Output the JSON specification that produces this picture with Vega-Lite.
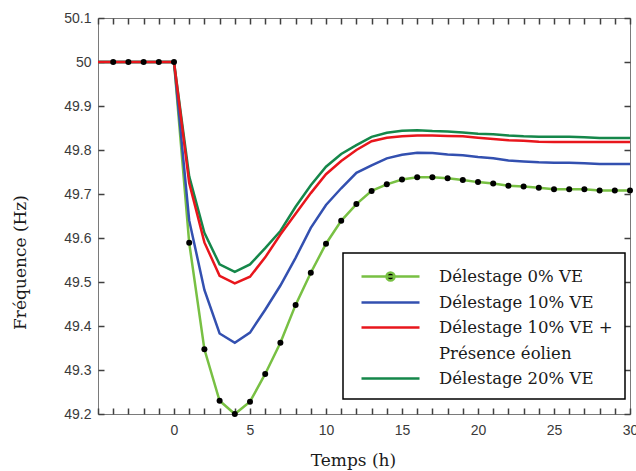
{
  "$schema": "https://vega.github.io/schema/vega-lite/v6.json",
  "width": 532,
  "height": 396,
  "autosize": {"type": "none"},
  "padding": {"left": 98, "top": 18, "right": 6, "bottom": 57},
  "background": "white",
  "config": {
    "view": {"stroke": "#7a7a7a", "strokeWidth": 1},
    "axis": {
      "domain": false,
      "ticks": false,
      "tickSize": 0,
      "grid": true,
      "gridColor": "#404040",
      "gridWidth": 1.5,
      "gridOpacity": 1,
      "labelFont": "Liberation Sans",
      "labelFontSize": 14,
      "labelColor": "#3a3a3a",
      "titleFont": "DejaVu Serif",
      "titleFontSize": 17,
      "titleFontWeight": "normal",
      "titleColor": "#1a1a1a"
    }
  },
  "data": {
    "values": [
      {"s": "Délestage 0% VE", "t": -5, "f": 50},
      {"s": "Délestage 0% VE", "t": -4, "f": 50},
      {"s": "Délestage 0% VE", "t": -3, "f": 50},
      {"s": "Délestage 0% VE", "t": -2, "f": 50},
      {"s": "Délestage 0% VE", "t": -1, "f": 50},
      {"s": "Délestage 0% VE", "t": 0, "f": 50},
      {"s": "Délestage 0% VE", "t": 1, "f": 49.589},
      {"s": "Délestage 0% VE", "t": 2, "f": 49.347},
      {"s": "Délestage 0% VE", "t": 3, "f": 49.23},
      {"s": "Délestage 0% VE", "t": 4, "f": 49.2},
      {"s": "Délestage 0% VE", "t": 5, "f": 49.228},
      {"s": "Délestage 0% VE", "t": 6, "f": 49.291},
      {"s": "Délestage 0% VE", "t": 7, "f": 49.362},
      {"s": "Délestage 0% VE", "t": 8, "f": 49.448},
      {"s": "Délestage 0% VE", "t": 9, "f": 49.521},
      {"s": "Délestage 0% VE", "t": 10, "f": 49.587},
      {"s": "Délestage 0% VE", "t": 11, "f": 49.639},
      {"s": "Délestage 0% VE", "t": 12, "f": 49.677},
      {"s": "Délestage 0% VE", "t": 13, "f": 49.707},
      {"s": "Délestage 0% VE", "t": 14, "f": 49.722},
      {"s": "Délestage 0% VE", "t": 15, "f": 49.733},
      {"s": "Délestage 0% VE", "t": 16, "f": 49.738},
      {"s": "Délestage 0% VE", "t": 17, "f": 49.738},
      {"s": "Délestage 0% VE", "t": 18, "f": 49.736},
      {"s": "Délestage 0% VE", "t": 19, "f": 49.732},
      {"s": "Délestage 0% VE", "t": 20, "f": 49.727},
      {"s": "Délestage 0% VE", "t": 21, "f": 49.724},
      {"s": "Délestage 0% VE", "t": 22, "f": 49.719},
      {"s": "Délestage 0% VE", "t": 23, "f": 49.717},
      {"s": "Délestage 0% VE", "t": 24, "f": 49.714},
      {"s": "Délestage 0% VE", "t": 25, "f": 49.711},
      {"s": "Délestage 0% VE", "t": 26, "f": 49.711},
      {"s": "Délestage 0% VE", "t": 27, "f": 49.711},
      {"s": "Délestage 0% VE", "t": 28, "f": 49.708},
      {"s": "Délestage 0% VE", "t": 29, "f": 49.708},
      {"s": "Délestage 0% VE", "t": 30, "f": 49.708},

      {"s": "Délestage 10% VE", "t": -5, "f": 50},
      {"s": "Délestage 10% VE", "t": 0, "f": 50},
      {"s": "Délestage 10% VE", "t": 1, "f": 49.64},
      {"s": "Délestage 10% VE", "t": 2, "f": 49.482},
      {"s": "Délestage 10% VE", "t": 3, "f": 49.383},
      {"s": "Délestage 10% VE", "t": 4, "f": 49.362},
      {"s": "Délestage 10% VE", "t": 5, "f": 49.385},
      {"s": "Délestage 10% VE", "t": 6, "f": 49.437},
      {"s": "Délestage 10% VE", "t": 7, "f": 49.492},
      {"s": "Délestage 10% VE", "t": 8, "f": 49.555},
      {"s": "Délestage 10% VE", "t": 9, "f": 49.623},
      {"s": "Délestage 10% VE", "t": 10, "f": 49.675},
      {"s": "Délestage 10% VE", "t": 11, "f": 49.713},
      {"s": "Délestage 10% VE", "t": 12, "f": 49.748},
      {"s": "Délestage 10% VE", "t": 13, "f": 49.765},
      {"s": "Délestage 10% VE", "t": 14, "f": 49.781},
      {"s": "Délestage 10% VE", "t": 15, "f": 49.789},
      {"s": "Délestage 10% VE", "t": 16, "f": 49.794},
      {"s": "Délestage 10% VE", "t": 17, "f": 49.793},
      {"s": "Délestage 10% VE", "t": 18, "f": 49.79},
      {"s": "Délestage 10% VE", "t": 19, "f": 49.788},
      {"s": "Délestage 10% VE", "t": 20, "f": 49.784},
      {"s": "Délestage 10% VE", "t": 21, "f": 49.781},
      {"s": "Délestage 10% VE", "t": 22, "f": 49.776},
      {"s": "Délestage 10% VE", "t": 23, "f": 49.774},
      {"s": "Délestage 10% VE", "t": 24, "f": 49.772},
      {"s": "Délestage 10% VE", "t": 25, "f": 49.771},
      {"s": "Délestage 10% VE", "t": 26, "f": 49.771},
      {"s": "Délestage 10% VE", "t": 27, "f": 49.77},
      {"s": "Délestage 10% VE", "t": 28, "f": 49.768},
      {"s": "Délestage 10% VE", "t": 29, "f": 49.768},
      {"s": "Délestage 10% VE", "t": 30, "f": 49.768},

      {"s": "Délestage 20% VE", "t": -5, "f": 50},
      {"s": "Délestage 20% VE", "t": 0, "f": 50},
      {"s": "Délestage 20% VE", "t": 1, "f": 49.74},
      {"s": "Délestage 20% VE", "t": 2, "f": 49.612},
      {"s": "Délestage 20% VE", "t": 3, "f": 49.54},
      {"s": "Délestage 20% VE", "t": 4, "f": 49.523},
      {"s": "Délestage 20% VE", "t": 5, "f": 49.54},
      {"s": "Délestage 20% VE", "t": 6, "f": 49.577},
      {"s": "Délestage 20% VE", "t": 7, "f": 49.616},
      {"s": "Délestage 20% VE", "t": 8, "f": 49.671},
      {"s": "Délestage 20% VE", "t": 9, "f": 49.72},
      {"s": "Délestage 20% VE", "t": 10, "f": 49.762},
      {"s": "Délestage 20% VE", "t": 11, "f": 49.791},
      {"s": "Délestage 20% VE", "t": 12, "f": 49.811},
      {"s": "Délestage 20% VE", "t": 13, "f": 49.83},
      {"s": "Délestage 20% VE", "t": 14, "f": 49.839},
      {"s": "Délestage 20% VE", "t": 15, "f": 49.844},
      {"s": "Délestage 20% VE", "t": 16, "f": 49.845},
      {"s": "Délestage 20% VE", "t": 17, "f": 49.843},
      {"s": "Délestage 20% VE", "t": 18, "f": 49.842},
      {"s": "Délestage 20% VE", "t": 19, "f": 49.84},
      {"s": "Délestage 20% VE", "t": 20, "f": 49.837},
      {"s": "Délestage 20% VE", "t": 21, "f": 49.836},
      {"s": "Délestage 20% VE", "t": 22, "f": 49.833},
      {"s": "Délestage 20% VE", "t": 23, "f": 49.831},
      {"s": "Délestage 20% VE", "t": 24, "f": 49.83},
      {"s": "Délestage 20% VE", "t": 25, "f": 49.83},
      {"s": "Délestage 20% VE", "t": 26, "f": 49.83},
      {"s": "Délestage 20% VE", "t": 27, "f": 49.829},
      {"s": "Délestage 20% VE", "t": 28, "f": 49.827},
      {"s": "Délestage 20% VE", "t": 29, "f": 49.827},
      {"s": "Délestage 20% VE", "t": 30, "f": 49.827},

      {"s": "Délestage 10% VE + Présence éolien", "t": -5, "f": 50},
      {"s": "Délestage 10% VE + Présence éolien", "t": 0, "f": 50},
      {"s": "Délestage 10% VE + Présence éolien", "t": 1, "f": 49.725},
      {"s": "Délestage 10% VE + Présence éolien", "t": 2, "f": 49.59},
      {"s": "Délestage 10% VE + Présence éolien", "t": 3, "f": 49.514},
      {"s": "Délestage 10% VE + Présence éolien", "t": 4, "f": 49.497},
      {"s": "Délestage 10% VE + Présence éolien", "t": 5, "f": 49.512},
      {"s": "Délestage 10% VE + Présence éolien", "t": 6, "f": 49.556},
      {"s": "Délestage 10% VE + Présence éolien", "t": 7, "f": 49.608},
      {"s": "Délestage 10% VE + Présence éolien", "t": 8, "f": 49.655},
      {"s": "Délestage 10% VE + Présence éolien", "t": 9, "f": 49.702},
      {"s": "Délestage 10% VE + Présence éolien", "t": 10, "f": 49.745},
      {"s": "Délestage 10% VE + Présence éolien", "t": 11, "f": 49.775},
      {"s": "Délestage 10% VE + Présence éolien", "t": 12, "f": 49.8},
      {"s": "Délestage 10% VE + Présence éolien", "t": 13, "f": 49.82},
      {"s": "Délestage 10% VE + Présence éolien", "t": 14, "f": 49.828},
      {"s": "Délestage 10% VE + Présence éolien", "t": 15, "f": 49.831},
      {"s": "Délestage 10% VE + Présence éolien", "t": 16, "f": 49.833},
      {"s": "Délestage 10% VE + Présence éolien", "t": 17, "f": 49.833},
      {"s": "Délestage 10% VE + Présence éolien", "t": 18, "f": 49.832},
      {"s": "Délestage 10% VE + Présence éolien", "t": 19, "f": 49.831},
      {"s": "Délestage 10% VE + Présence éolien", "t": 20, "f": 49.828},
      {"s": "Délestage 10% VE + Présence éolien", "t": 21, "f": 49.825},
      {"s": "Délestage 10% VE + Présence éolien", "t": 22, "f": 49.822},
      {"s": "Délestage 10% VE + Présence éolien", "t": 23, "f": 49.821},
      {"s": "Délestage 10% VE + Présence éolien", "t": 24, "f": 49.819},
      {"s": "Délestage 10% VE + Présence éolien", "t": 25, "f": 49.818},
      {"s": "Délestage 10% VE + Présence éolien", "t": 26, "f": 49.818},
      {"s": "Délestage 10% VE + Présence éolien", "t": 27, "f": 49.818},
      {"s": "Délestage 10% VE + Présence éolien", "t": 28, "f": 49.818},
      {"s": "Délestage 10% VE + Présence éolien", "t": 29, "f": 49.818},
      {"s": "Délestage 10% VE + Présence éolien", "t": 30, "f": 49.818}
    ]
  },
  "encoding": {
    "x": {
      "field": "t", "type": "quantitative",
      "scale": {"domain": [-5, 30], "nice": false, "zero": false},
      "axis": {
        "orient": "bottom",
        "values": [-5,-4,-3,-2,-1,0,1,2,3,4,5,6,7,8,9,10,11,12,13,14,15,16,17,18,19,20,21,22,23,24,25,26,27,28,29,30],
        "grid": true,
        "gridDash": [6, 384, 6, 1000],
        "labelPadding": 9,
        "labelFlush": false,
        "labelOverlap": false,
        "labelExpr": "datum.value % 5 == 0 && datum.value >= 0 ? datum.label : ''",
        "title": "Temps (h)",
        "titleX": 255,
        "titleY": 51,
        "titleBaseline": "alphabetic"
      }
    },
    "y": {
      "field": "f", "type": "quantitative",
      "scale": {"domain": [49.2, 50.1], "nice": false, "zero": false},
      "axis": {
        "orient": "left",
        "values": [49.2, 49.3, 49.4, 49.5, 49.6, 49.7, 49.8, 49.9, 50, 50.1],
        "format": ".1~f",
        "grid": true,
        "gridDash": [6, 520, 6, 1000],
        "labelPadding": 7,
        "title": "Fréquence (Hz)",
        "titleX": -73,
        "titleY": 244,
        "titleBaseline": "alphabetic"
      }
    }
  },
  "layer": [
    {
      "mark": {"type": "line", "strokeWidth": 2.5},
      "encoding": {
        "color": {
          "field": "s", "type": "nominal",
          "scale": {
            "domain": ["Délestage 0% VE", "Délestage 10% VE", "Délestage 10% VE + Présence éolien", "Délestage 20% VE"],
            "range": ["#78c043", "#3350b0", "#e8161c", "#15874a"]
          },
          "legend": {
            "orient": "none",
            "legendX": 245,
            "legendY": 235,
            "title": null,
            "strokeColor": "black",
            "fillColor": "white",
            "padding": 12,
            "symbolType": "M-2.9,0H2.9",
            "symbolSize": 400,
            "symbolStrokeWidth": 2.5,
            "symbolOffset": 24,
            "labelOffset": 37,
            "rowPadding": 5,
            "labelFont": "DejaVu Serif",
            "labelFontSize": 16.5,
            "labelColor": "#1a1a1a",
            "labelLimit": 300,
            "labelExpr": "datum.value == 'Délestage 10% VE + Présence éolien' ? ['Délestage 10% VE +', '\u2002Présence éolien'] : datum.label",
            "encode": {
              "legend": {"update": {"strokeWidth": {"value": 1.5}}},
              "labels": {"update": {"lineHeight": {"value": 26}}},
              "symbols": {
                "update": {
                  "shape": {"signal": "datum.value == 'Délestage 0% VE' ? 'M-2.9,0H2.9M-0.4,0A0.4,0.4,0,1,1,0.4,0A0.4,0.4,0,1,1,-0.4,0Z' : 'M-2.9,0H2.9'"},
                  "fill": {"signal": "datum.value == 'Délestage 0% VE' ? 'black' : 'transparent'"}
                }
              }
            }
          }
        }
      }
    },
    {
      "transform": [{"filter": "datum.s == 'Délestage 0% VE' && datum.t >= -4"}],
      "mark": {"type": "point", "filled": true, "color": "black", "size": 36, "opacity": 1}
    }
  ]
}
